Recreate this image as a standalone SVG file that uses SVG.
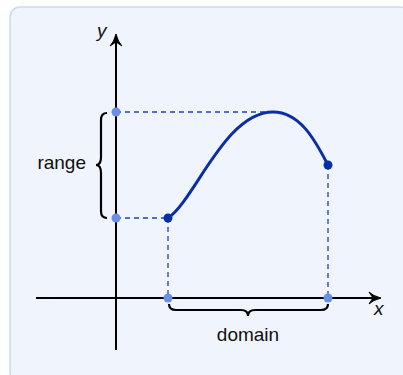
<svg xmlns="http://www.w3.org/2000/svg" width="403" height="375" viewBox="0 0 403 375">
<style>
.axis{stroke:#000;stroke-width:2;fill:none}
.dash{stroke:#1f44b8;stroke-width:1.3;stroke-dasharray:5,4;fill:none}
.brace{stroke:#000;stroke-width:2.2;fill:none}
.lbl{font-family:"Liberation Sans",Arial,sans-serif;font-size:19px;fill:#111}
.it{font-family:"Liberation Sans",Arial,sans-serif;font-size:19px;font-style:italic;fill:#111}
.ldot{fill:#6b8ee6}
.ddot{fill:#0a2ea8}
</style>
<rect x="10" y="7" width="400" height="375" rx="10" fill="#f0f4fc" stroke="#cdd8f0" stroke-width="1.5"/>
<g id="connectors">
<path class="dash" d="M116,112 H273"/>
<path class="dash" d="M116,218 H168"/>
<path class="dash" d="M168,218 V298"/>
<path class="dash" d="M328,165 V298"/>
</g>
<g id="axes">
<path class="axis" d="M116,350 V36"/>
<path d="M116,34 Q118,42 122,46 L116,42 L110,46 Q114,42 116,34 Z" fill="#000" stroke="#000" stroke-width="1"/>
<path class="axis" d="M36,298 H378"/>
<path d="M381,298 Q373,300 369,304 L373,298 L369,292 Q373,296 381,298 Z" fill="#000" stroke="#000" stroke-width="1"/>
<text class="it" x="97" y="37">y</text>
<text class="it" x="374" y="315">x</text>
</g>
<g id="curve">
<path d="M168,218 C195,200 225,112 273,112 C300,112 315,140 328,165" fill="none" stroke="#0a2ea8" stroke-width="3"/>
</g>
<g id="range">
<path class="brace" d="M107,113 Q101,113 101,120 V157 Q101,165 96,165 Q101,165 101,173 V211 Q101,218 107,218"/>
<text class="lbl" x="86" y="169" text-anchor="end">range</text>
</g>
<g id="domain">
<path class="brace" d="M169,304 Q169,310 176,310 H241 Q248,310 248,316 Q248,310 255,310 H321 Q328,310 328,304"/>
<text class="lbl" x="248" y="341" text-anchor="middle">domain</text>
</g>
<g id="points">
<circle class="ldot" cx="116" cy="112" r="4.5"/>
<circle class="ldot" cx="116" cy="218" r="4.5"/>
<circle class="ddot" cx="168" cy="218" r="4.5"/>
<circle class="ldot" cx="168" cy="298" r="4.5"/>
<circle class="ldot" cx="328" cy="298" r="4.5"/>
<circle class="ddot" cx="328" cy="165" r="4.5"/>
</g>
</svg>
